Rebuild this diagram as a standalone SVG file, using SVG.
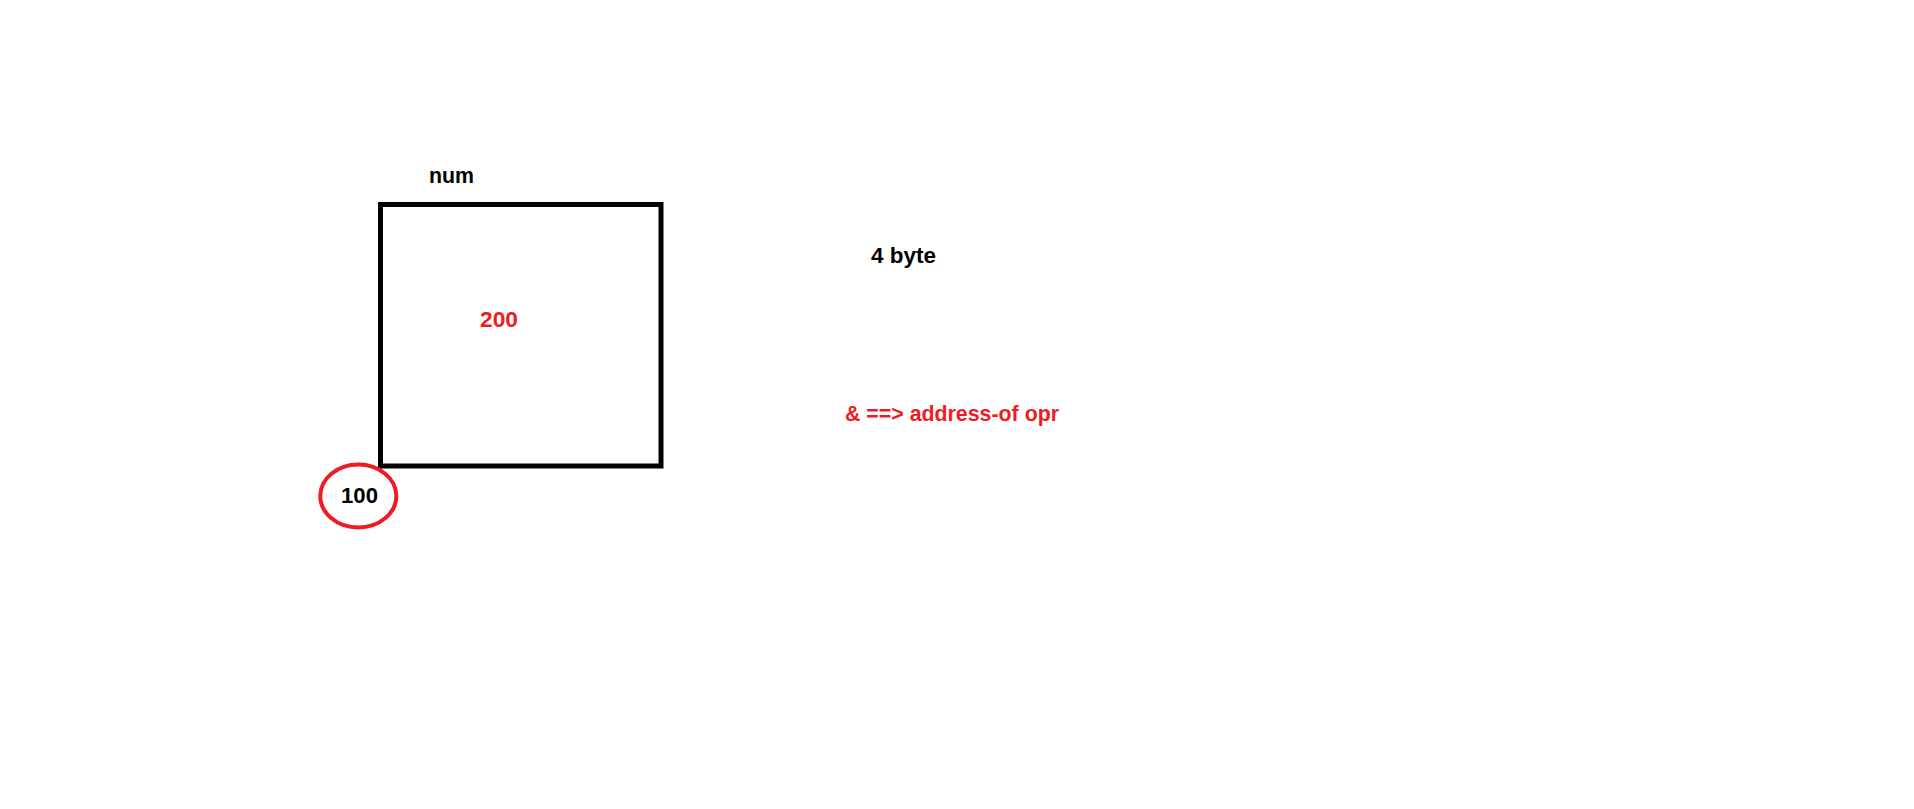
<svg xmlns="http://www.w3.org/2000/svg" width="1914" height="809" viewBox="0 0 1914 809">
<style>
.t{font-family:"Liberation Sans",Arial,sans-serif;font-weight:bold;font-size:22px}
.k{fill:#000}
.r{fill:#ed1c24}
</style>
<rect x="0" y="0" width="1914" height="809" fill="#fff"/>
<g id="box-num">
<rect x="380.5" y="204.5" width="280.5" height="261.5" fill="none" stroke="#000" stroke-width="5"/>
<text class="t k" x="429" y="183" textLength="45" lengthAdjust="spacingAndGlyphs">num</text>
<text class="t r" x="480" y="327" textLength="38" lengthAdjust="spacingAndGlyphs">200</text>
</g>
<g id="addr">
<ellipse cx="358.3" cy="496" rx="38" ry="31.5" fill="none" stroke="#ed1c24" stroke-width="4"/>
<text class="t k" x="341" y="503" textLength="37" lengthAdjust="spacingAndGlyphs">100</text>
</g>
<g id="notes">
<text class="t k" x="871" y="263" textLength="65" lengthAdjust="spacingAndGlyphs">4 byte</text>
<text class="t r" x="845" y="421" textLength="214" lengthAdjust="spacingAndGlyphs">&amp; ==&gt; address-of opr</text>
</g>
<g id="connectors"/>
</svg>
